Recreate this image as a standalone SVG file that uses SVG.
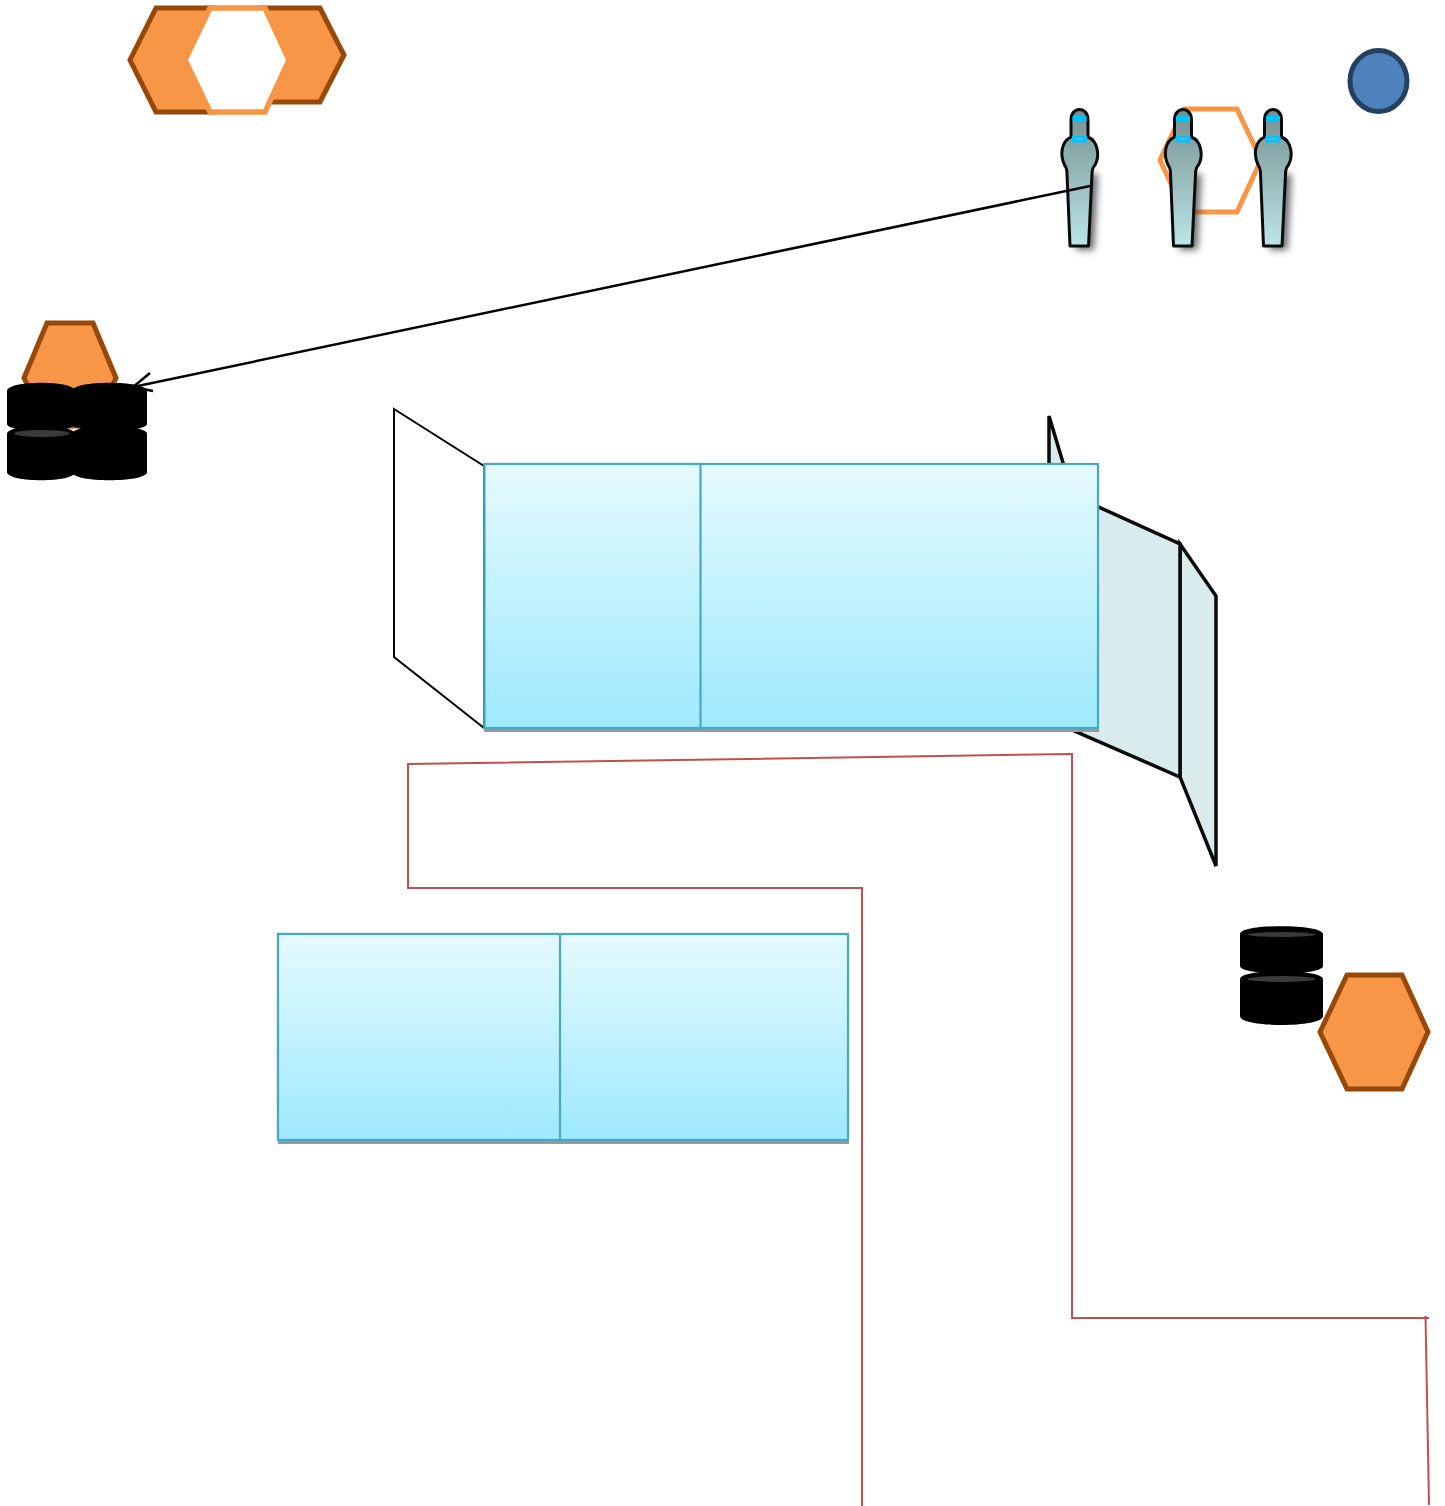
<svg xmlns="http://www.w3.org/2000/svg" width="1445" height="1506" viewBox="0 0 1445 1506">
<style>
.hex{fill:#f79646;stroke:#984807;stroke-width:5;stroke-linejoin:miter}
.hexl{stroke:#f79646;stroke-width:5.5;fill:#fff}
.box{fill:url(#gb);stroke:#45a8c4;stroke-width:2.200}
.shadow{fill:#999}
.wall{fill:#daebee;stroke:#0a0a0a;stroke-width:3.500;stroke-linejoin:miter}
.wire{fill:none;stroke:#c0504d;stroke-width:2}
.blk{fill:none;stroke:#000;stroke-width:2.500}
.thin{fill:#fff;stroke:#000;stroke-width:2}
.cyl{fill:#000}
.hi{fill:#3a3a3a}
</style>
<defs>
<linearGradient id="gb" x1="0" y1="0" x2="0" y2="1"><stop offset="0" stop-color="#e5faff"/><stop offset="1" stop-color="#9ee9fe"/></linearGradient>
<linearGradient id="gs" x1="0" y1="0" x2="0" y2="1"><stop offset="0" stop-color="#768f91"/><stop offset="1" stop-color="#bbe6e6"/></linearGradient>
<filter id="sh" x="-80%" y="-30%" width="260%" height="160%"><feGaussianBlur stdDeviation="3.500"/></filter>
<g id="bottle">
<path d="M12 60 L13 136 L31 136 L35 60 Z" fill="#444" opacity=".8" filter="url(#sh)" transform="translate(0,4)"/>
<path d="M7 136 L4 64 Q4 58 2 56 C-4 44 -1 31 8 27 L8 10 C8 -4 25 -4 25 10 L25 27 C35 31 37 46 32 55 Q29 58 29 64 L25.500 136 Z" fill="url(#gs)" stroke="#0a0a0a" stroke-width="3" stroke-linejoin="round"/>
<rect x="9.500" y="6" width="14" height="5.500" fill="#00c3ff"/>
<rect x="9" y="26" width="15" height="6.500" fill="#00c3ff"/>
<rect x="12.500" y="28.500" width="8" height="1" fill="#9bb"/>
</g>
</defs>

<g id="hex-top-right"><polygon class="hex" points="300,8 320,8 344,55 320,102 260,102 260,8"/></g>
<g id="hex-top-left"><polygon class="hex" points="130,60 156,8 212,8 212,112 156,112"/></g>
<g id="hex-top-white"><polygon class="hexl" points="185,60 210,8 265,8 289,60 265,112 210,112"/></g>

<g id="hex-outline"><polygon points="1160,160 1184,109 1237,109 1261,160 1237,212 1184,212" fill="#fff" stroke="#f79646" stroke-width="5"/></g>
<g id="bottle-1"><use href="#bottle" x="1063" y="110"/></g>
<g id="bottle-2"><use href="#bottle" x="1166.500" y="110"/></g>
<g id="bottle-3"><use href="#bottle" x="1256.500" y="110"/></g>

<g id="circle"><ellipse cx="1378.500" cy="81" rx="28.500" ry="30.500" fill="#4f81bd" stroke="#254061" stroke-width="5"/></g>

<g id="hex-left"><polygon class="hex" points="24,378 47,323 93,323 116,378 93,426 47,426"/></g>
<g id="cylinders-left">
<path class="cyl" d="M7 391 C7 380 75 380 75 391 L75 424 C75 433 7 433 7 424 Z"/>
<path class="cyl" d="M72 391 C72 380 147 380 147 391 L147 424 C147 433 72 433 72 424 Z"/>
<path class="cyl" d="M7 434 C7 423 75 423 75 434 L75 472 C75 483 7 483 7 472 Z"/>
<path class="cyl" d="M72 434 C72 423 147 423 147 434 L147 472 C147 483 72 483 72 472 Z"/>
<ellipse class="hi" cx="42" cy="433.500" rx="28" ry="3.500"/>
</g>

<g id="wall-left"><polygon class="thin" points="394,409 484,466 484,728 394,657"/></g>

<g id="wall-right">
<polygon class="wall" points="1180,544 1216,596 1216,866 1180,777"/>
<polygon class="wall" points="1049,416 1064,466 1049,470"/>
<polygon class="wall" points="1070,494 1180,544 1180,777 1070,729"/>
</g>

<g id="box-upper">
<rect class="shadow" x="484" y="728" width="615" height="4"/>
<rect class="box" x="484.500" y="464" width="613.500" height="264"/>
<rect class="box" x="484.500" y="464" width="216" height="264"/>
</g>
<g id="box-lower">
<rect class="shadow" x="278" y="1140" width="571" height="4"/>
<rect class="box" x="278" y="934" width="570" height="206"/>
<rect class="box" x="278" y="934" width="282" height="206"/>
</g>

<g id="cylinders-right">
<path class="cyl" d="M1240 934 C1240 923.500 1323 923.500 1323 934 L1323 966 C1323 976 1240 976 1240 966 Z"/>
<path class="cyl" d="M1240 979 C1240 968.500 1323 968.500 1323 979 L1323 1016 C1323 1028 1240 1028 1240 1016 Z"/>
<ellipse class="hi" cx="1281.500" cy="934.500" rx="34" ry="2.500"/>
<ellipse class="hi" cx="1281.500" cy="979" rx="34" ry="3"/>
</g>
<g id="hex-right"><polygon class="hex" points="1320,1032 1347,975 1402,975 1428,1032 1402,1089 1347,1089"/></g>

<g id="connectors">
<path class="wire" d="M862 1506 L862 888 L408 888 L408 764 L1072 754 L1072 1318 L1429 1318"/>
<path class="wire" d="M1425.500 1316 L1429 1505"/>
<path class="blk" d="M1090 186 L133 387"/>
<path class="blk" d="M150 373 L133 387 L153 391"/>
</g>
</svg>
